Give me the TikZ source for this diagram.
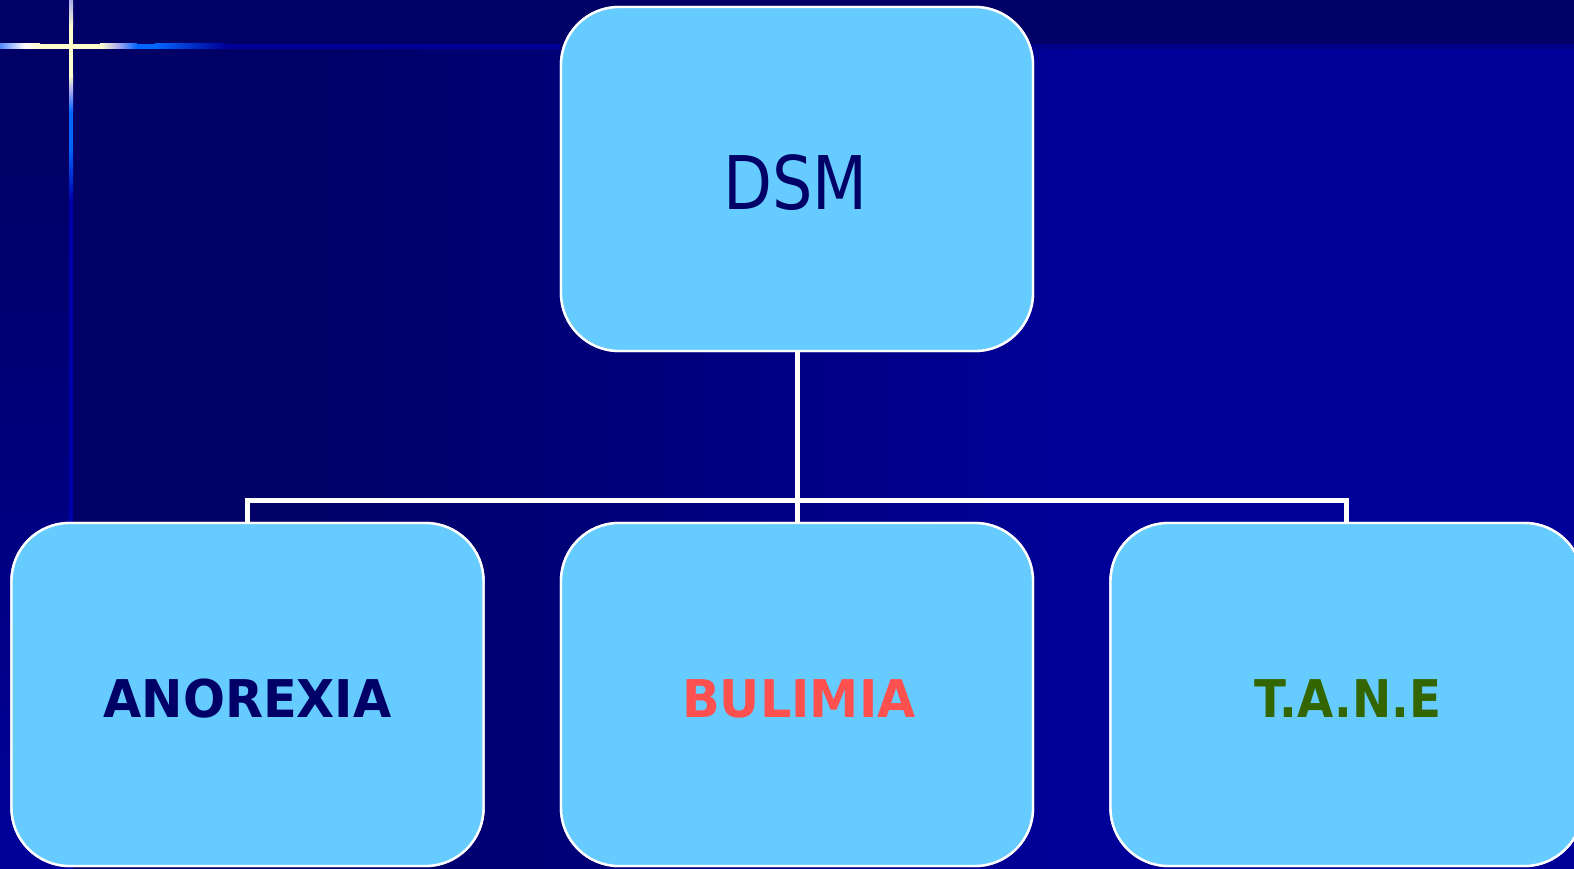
\documentclass[tikz,border=0pt]{standalone}
\usepackage{fontspec}
\setmainfont{DejaVu Sans}
\definecolor{navy}{HTML}{000066}
\definecolor{deepblue}{HTML}{000099}
\definecolor{boxfill}{HTML}{66CCFF}
\definecolor{brightblue}{HTML}{0066FF}
\definecolor{paleyellow}{HTML}{FFFFCC}
\definecolor{lightblue}{HTML}{5588FF}
\definecolor{lavender}{HTML}{AAAAEE}
\definecolor{bulred}{HTML}{FF5050}
\definecolor{tanegreen}{HTML}{336600}
\tikzset{
  box/.style={draw=white, line width=2.4pt, fill=boxfill, rounded corners=58pt,
    minimum width=472pt, minimum height=344pt, inner sep=0pt, outer sep=0pt},
  conn/.style={draw=white, line width=5pt},
  boldlabel/.style={inner sep=0pt, font=\fontsize{52}{60}\selectfont\bfseries},
  dsmlabel/.style={inner sep=0pt, text=navy, font=\fontsize{74}{80}\selectfont}
}
\begin{document}
\begin{tikzpicture}[x=1pt,y=-1pt]
\useasboundingbox (0,0) rectangle (1574,869);
\clip (0,0) rectangle (1574,869);
% background
\fill[navy] (0,0) rectangle (1574,869);
\fill[navy] (73,49) rectangle (300,869);
\shade[left color=navy, right color=deepblue] (300,49) rectangle (1100,869);
\fill[deepblue] (1100,49) rectangle (1574,869);
\shade[top color=navy, bottom color=deepblue] (0,150) rectangle (70,869);
% cross: horizontal line
\shade[left color=lightblue, right color=white] (0,44) rectangle (25,49);
\shade[left color=white, right color=paleyellow] (25,44) rectangle (40,49);
\fill[paleyellow] (40,44) rectangle (100,49);
\shade[left color=paleyellow, right color=lavender] (100,44) rectangle (118,49);
\shade[left color=lavender, right color=brightblue] (118,44) rectangle (137,49);
\fill[brightblue] (137,44) rectangle (155,49);
\shade[left color=brightblue, right color=deepblue] (155,44) rectangle (225,49);
\fill[deepblue] (225,44) rectangle (560,49);
\fill[deepblue!65!navy] (1030,44) rectangle (1574,49);
% cross: vertical line
\shade[top color=lavender, bottom color=paleyellow] (69,0) rectangle (73,28);
\fill[paleyellow] (69,28) rectangle (73,75);
\shade[top color=paleyellow, bottom color=lavender] (69,75) rectangle (73,90);
\shade[top color=lavender, bottom color=brightblue] (69,90) rectangle (73,112);
\fill[brightblue] (69,112) rectangle (73,148);
\shade[top color=brightblue, bottom color=deepblue!80!blue] (69,148) rectangle (73,200);
\fill[deepblue!80!blue] (69,200) rectangle (73,869);
% nodes
\node[box] (dsm) at (797,179) {};
\node[box, minimum height=343pt] (ano) at (247.5,694.5) {};
\node[box, minimum height=343pt] (bul) at (797,694.5) {};
\node[box, minimum height=343pt] (tane) at (1346.5,694.5) {};
\coordinate (bar) at (797,500);
% connectors
\draw[conn] (dsm.south) -- (bul.north);
\draw[conn] (ano.north) -- (ano.north |- bar) -- (tane.north |- bar) -- (tane.north);
% redraw box outlines on top
\node[box] at (dsm) {};
\node[box, minimum height=343pt] at (ano) {};
\node[box, minimum height=343pt] at (bul) {};
\node[box, minimum height=343pt] at (tane) {};
% labels
\node[dsmlabel] (dsmt) at (795.5,183) {\scalebox{0.86}[1]{DSM}};
\node[boldlabel, text=navy] (anot) at (247.5,699) {\scalebox{0.95}[1]{ANOREXIA}};
\node[boldlabel, text=bulred] (bult) at (799,699) {\scalebox{0.95}[1]{BULIMIA}};
\node[boldlabel, text=tanegreen] (tanet) at (1348,699) {\scalebox{0.9}[1]{T.A.N.E}};
\end{tikzpicture}
\end{document}
